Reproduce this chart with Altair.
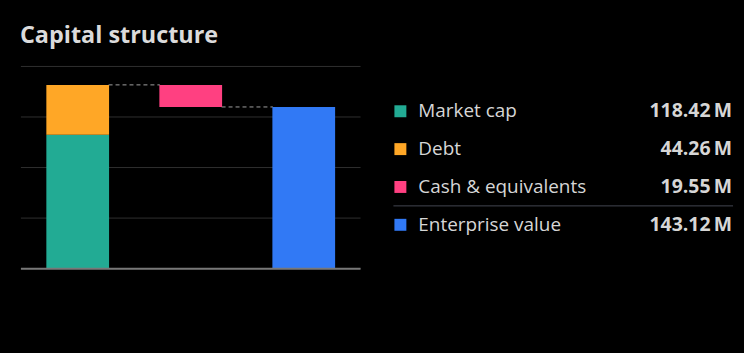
import altair as alt
import pandas as pd

# ---------------- data ----------------
title_text = "Capital structure"
items = ["Market cap", "Debt", "Cash & equivalents", "Enterprise value"]
amounts = [118.42, 44.26, 19.55, 143.12]
value_labels = ["118.42\u2009M", "44.26\u2009M", "19.55\u2009M", "143.12\u2009M"]
colors = ["#22ab94", "#ffa726", "#ff4081", "#3179f5"]
columns = ["stack", "cash", "ev"]
grid_values = [0, 44.75, 89.5, 134.25, 179]
y_max = 179

FONT = "Open Sans"
TEXT_COLOR = "#d6d6d6"

mc, debt, cash, ev = amounts
top = mc + debt

bars = pd.DataFrame({
    "col": ["stack", "stack", "cash", "ev"],
    "item": items,
    "start": [0, mc, top - cash, 0],
    "end": [mc, top, top, ev],
})
links = pd.DataFrame({
    "from": ["stack", "cash"],
    "to": ["cash", "ev"],
    "level": [top, top - cash],
})

# ---------------- waterfall panel ----------------
PW, PH = 341, 203
xscale = alt.Scale(domain=columns, paddingInner=0.445, paddingOuter=0.225)
yscale = alt.Scale(domain=[0, y_max], nice=False, zero=True)
cscale = alt.Scale(domain=items, range=colors)

grid = alt.Chart(pd.DataFrame({"g": grid_values})).mark_rule(
    color="#2f2f2f", strokeWidth=1
).encode(y=alt.Y("g:Q", scale=yscale, axis=None))

baseline = alt.Chart(pd.DataFrame({"g": [0]})).mark_rule(
    color="#787878", strokeWidth=2
).encode(y=alt.Y("g:Q", scale=yscale, axis=None))

connectors = alt.Chart(links).mark_rule(
    color="#a0a0a0", strokeWidth=1, strokeDash=[4, 3], xOffset=31, x2Offset=-31
).encode(
    x=alt.X("from:N", scale=xscale, axis=None),
    x2="to:N",
    y=alt.Y("level:Q", scale=yscale, axis=None),
)

bar_marks = alt.Chart(bars).mark_bar().encode(
    x=alt.X("col:N", scale=xscale, axis=None, sort=columns),
    y=alt.Y("start:Q", scale=yscale, axis=None),
    y2="end:Q",
    color=alt.Color("item:N", scale=cscale, legend=None),
)

waterfall = alt.layer(grid, connectors, bar_marks, baseline).properties(
    width=PW, height=PH
)

# ---------------- legend panel ----------------
LW = 342
first_row, row_step = 45, 38
legend_df = pd.DataFrame({
    "item": items,
    "row": list(range(len(items))),
    "vlabel": value_labels,
})
lo = -first_row / row_step
ly = alt.Scale(domain=[lo, lo + PH / row_step], reverse=True, nice=False, zero=False)

squares = alt.Chart(legend_df).mark_square(size=144, opacity=1).encode(
    x=alt.value(7),
    y=alt.Y("row:Q", scale=ly, axis=None),
    color=alt.Color("item:N", scale=cscale, legend=None),
)
names = alt.Chart(legend_df).mark_text(
    align="left", baseline="middle", fontSize=19, font=FONT, color=TEXT_COLOR
).encode(
    x=alt.value(25),
    y=alt.Y("row:Q", scale=ly, axis=None),
    text="item:N",
)
vals = alt.Chart(legend_df).mark_text(
    align="right", baseline="middle", fontSize=19.5, font=FONT,
    fontWeight="bold", color=TEXT_COLOR
).encode(
    x=alt.value(340),
    y=alt.Y("row:Q", scale=ly, axis=None),
    text="vlabel:N",
)
sep = alt.Chart(pd.DataFrame({"s": [2.5]})).mark_rule(
    color="#434651", strokeWidth=1
).encode(
    y=alt.Y("s:Q", scale=ly, axis=None),
    x=alt.value(0),
    x2=alt.value(LW - 1),
)

legend = alt.layer(sep, squares, names, vals).properties(width=LW, height=PH)

chart = alt.hconcat(waterfall, legend, spacing=31).properties(
    title=alt.TitleParams(
        title_text, anchor="start", fontSize=23.5, fontWeight="bold",
        font=FONT, color="#dbdbdb", offset=19,
    ),
    background="black",
    padding={"left": 20, "top": 23, "right": 10, "bottom": 84},
).configure_view(stroke=None).resolve_scale(y="independent")

chart.save("out.html", embed_options={"renderer": "svg", "actions": False})
